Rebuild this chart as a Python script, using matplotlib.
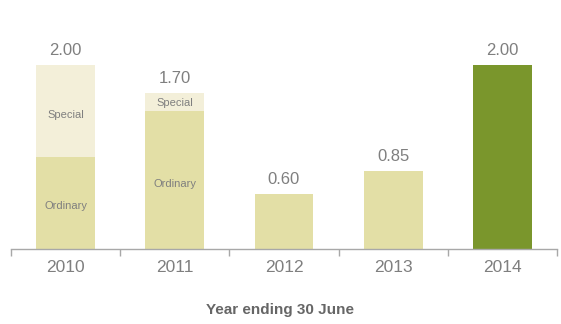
import numpy as np
import matplotlib
matplotlib.use('Agg')
import matplotlib.pyplot as plt

plt.rcParams['font.family'] = ['Liberation Sans', 'DejaVu Sans']

years = ['2010', '2011', '2012', '2013', '2014']
ordinary = [1.00, 1.50, 0.60, 0.85, 2.00]
special = [1.00, 0.20, 0.00, 0.00, 0.00]
totals = ['2.00', '1.70', '0.60', '0.85', '2.00']

ord_col = '#e3dfa6'
spec_col = '#f3efd9'
hi_col = '#7a962c'
txt_col = '#7f7f7f'

fig = plt.figure(figsize=(5.61, 3.24), dpi=100)
ax = fig.add_axes([11/561, 75/324, 546/561, 229/324])

x = np.arange(len(years))
colors = [ord_col] * 4 + [hi_col]
ax.bar(x, ordinary, width=0.54, color=colors, linewidth=0)
ax.bar(x, special, bottom=ordinary, width=0.54, color=spec_col, linewidth=0)

for i, t in enumerate(totals):
    top = ordinary[i] + special[i]
    ax.text(x[i], top + 0.075, t, ha='center', va='bottom', fontsize=12, color=txt_col)

# segment labels on the two stacked years
for i in range(len(years)):
    if special[i] > 0:
        ax.text(x[i], ordinary[i] + special[i] * 0.46, 'Special', ha='center', va='center',
                fontsize=8, color=txt_col)
        ax.text(x[i], ordinary[i] * 0.47, 'Ordinary', ha='center', va='center',
                fontsize=8, color=txt_col)

ax.set_xlim(-0.5, len(years) - 0.5)
ax.set_ylim(0, 229 / 184 * 2.0)
for s in ['top', 'right', 'left']:
    ax.spines[s].set_visible(False)
ax.spines['bottom'].set_color('#a8a8a8')
ax.spines['bottom'].set_linewidth(1.0)
ax.set_yticks([])
ax.set_xticks(np.arange(-0.5, len(years), 1.0))
ax.set_xticklabels([])
ax.set_xticks(x, minor=True)
ax.set_xticklabels(years, minor=True)
ax.tick_params(axis='x', which='major', length=5, color='#a8a8a8', width=1.0, direction='out')
ax.tick_params(axis='x', which='minor', length=0, pad=8, labelsize=12.5, labelcolor=txt_col)

fig.text(0.5, 14/324, 'Year ending 30 June', ha='center', va='center', fontsize=11,
         color='#666666', fontweight='bold')

fig.savefig('out.png', dpi=100)
